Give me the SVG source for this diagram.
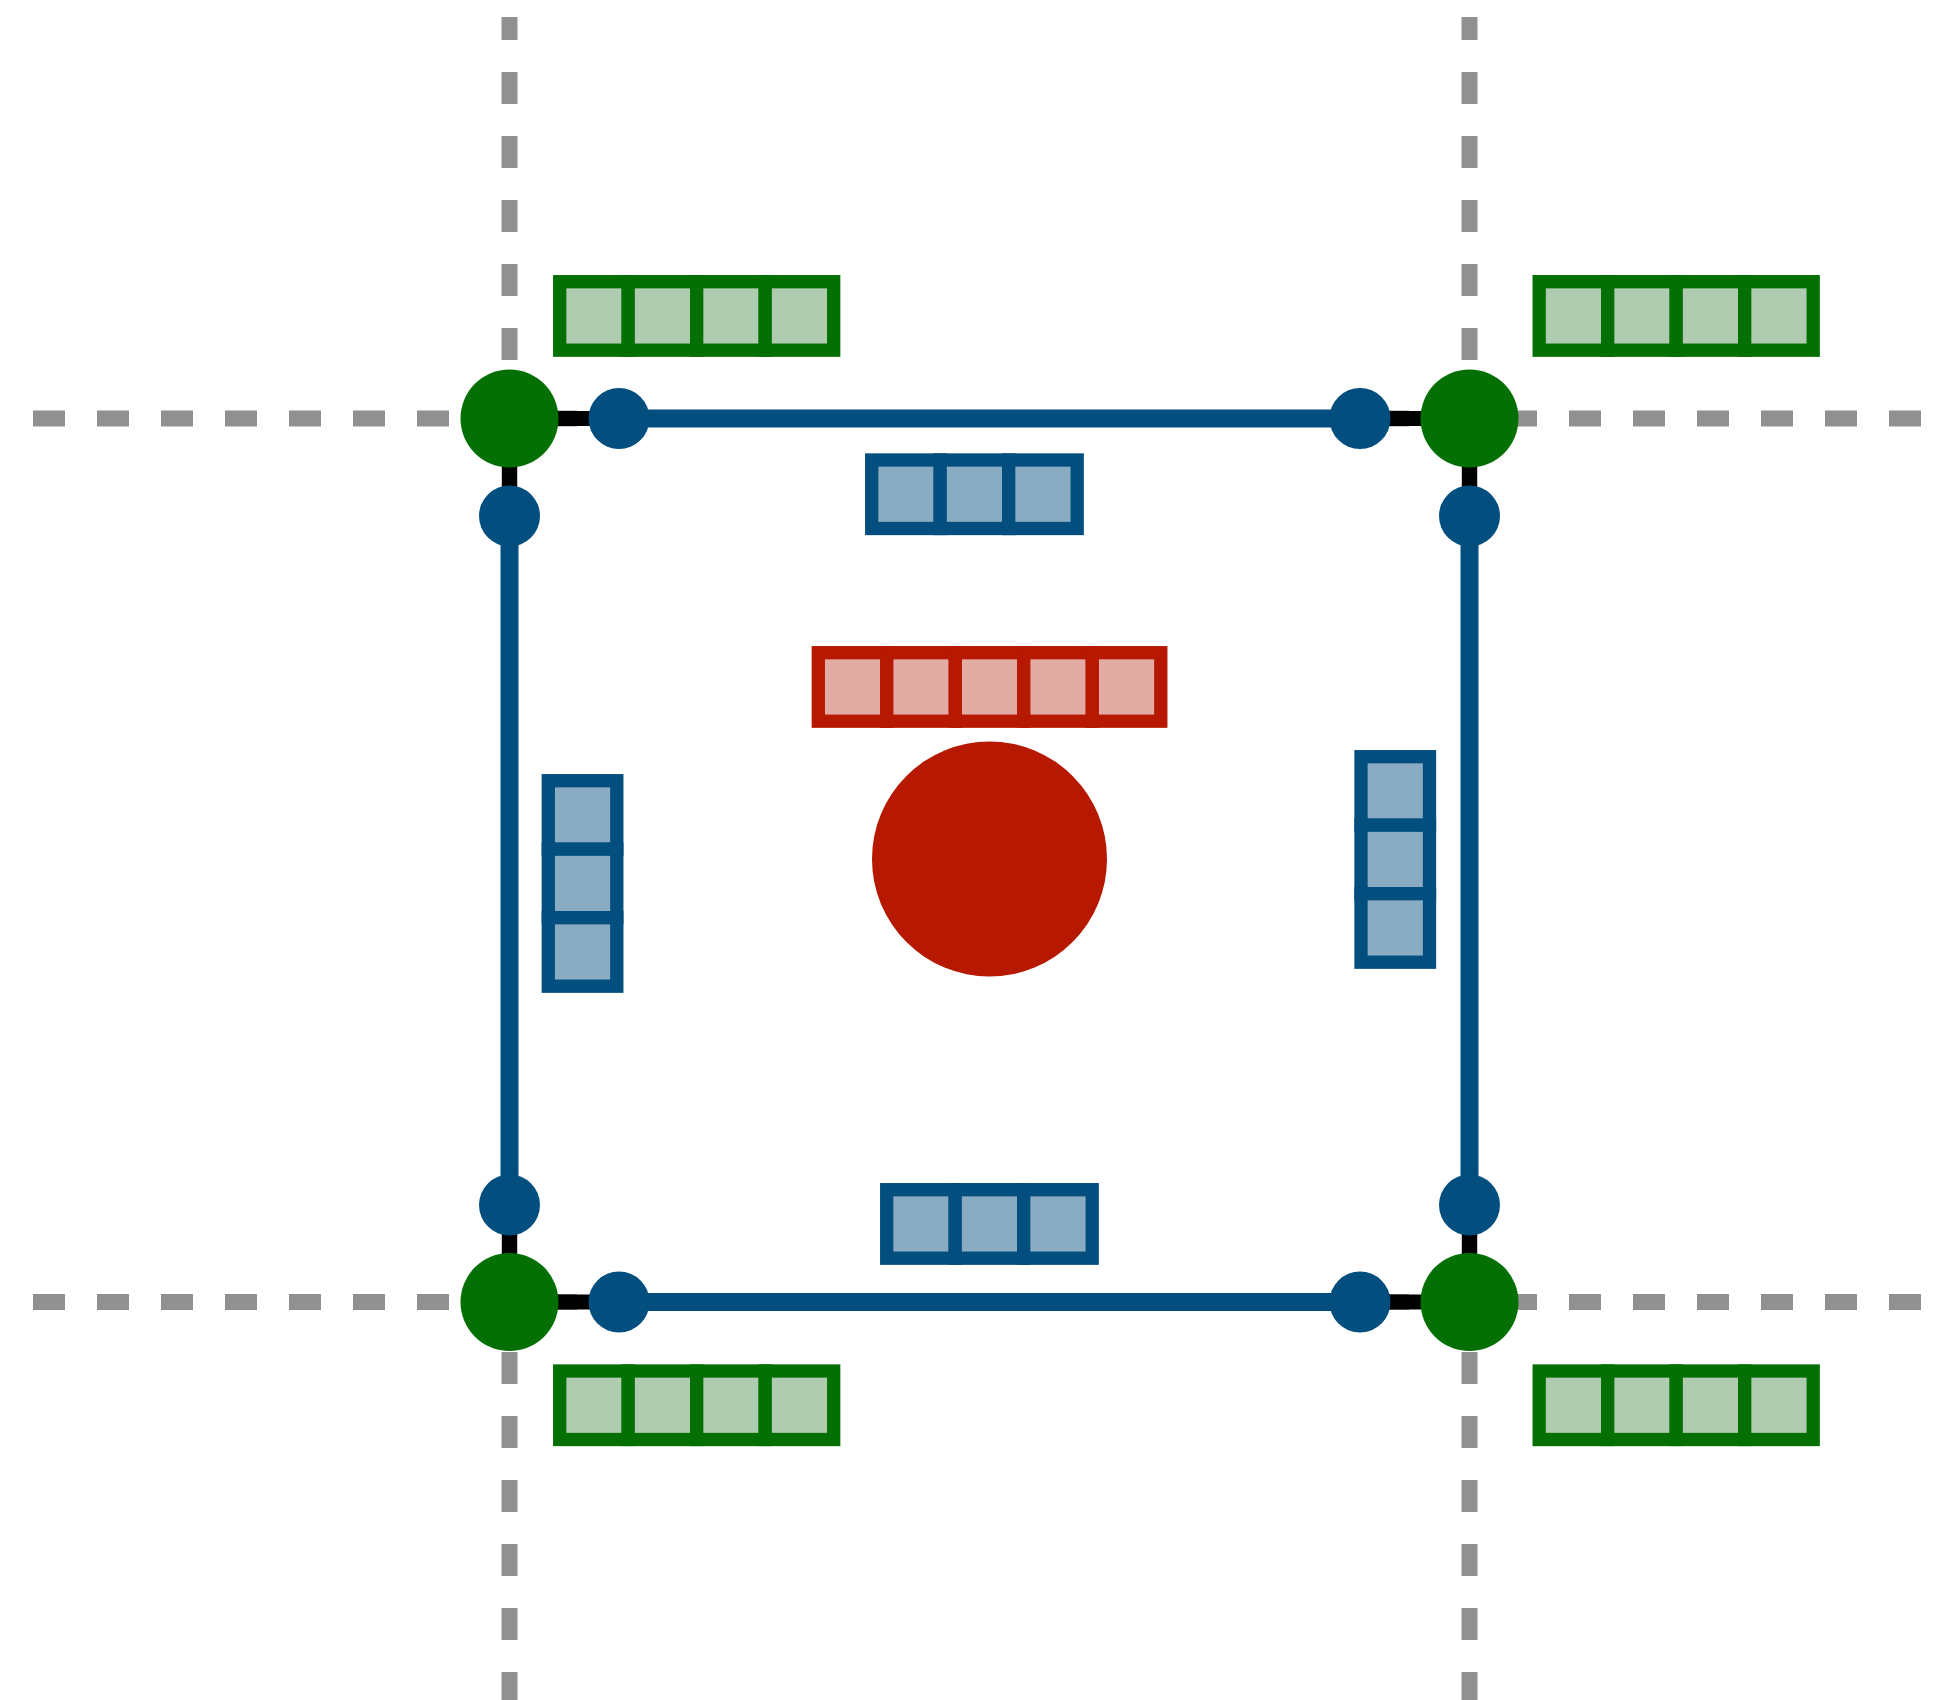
<svg xmlns="http://www.w3.org/2000/svg" width="1948" height="1700" viewBox="0 0 1948 1700">
  <style>
    .grid { stroke: #919191; stroke-width: 16; stroke-dasharray: 32 32; fill: none; }
    .link { stroke: #000000; stroke-width: 15; fill: none; }
    .wire { stroke: #024e7e; stroke-width: 18; fill: none; }
    .corner { fill: #047004; }
    .port { fill: #024e7e; }
    .hub { fill: #b61800; }
    .g { fill: #afcbb0; stroke: #047004; stroke-width: 13.3; }
    .b { fill: #8aacc3; stroke: #024e7e; stroke-width: 13.3; }
    .r { fill: #e2aba3; stroke: #b61800; stroke-width: 13.3; }
  </style>
  <defs>
    <rect id="cell-g" class="g" width="68.5" height="68.5"/>
    <rect id="cell-b" class="b" width="68.5" height="68.5"/>
    <rect id="cell-r" class="r" width="68.5" height="68.5"/>
  </defs>

  <rect width="1948" height="1700" fill="#ffffff"/>

  <!-- dashed grid lines -->
  <g id="grid">
    <line class="grid" x1="33" y1="418.5" x2="1922" y2="418.5"/>
    <line class="grid" x1="33" y1="1302" x2="1922" y2="1302"/>
    <line class="grid" x1="509.5" y1="17" x2="509.5" y2="1710" stroke-dashoffset="9"/>
    <line class="grid" x1="1469.5" y1="17" x2="1469.5" y2="1710" stroke-dashoffset="9"/>
  </g>

  <!-- connectors -->
  <g id="connectors">
    <line class="link" x1="509.5" y1="418.5" x2="1469.5" y2="418.5"/>
    <line class="link" x1="509.5" y1="1302" x2="1469.5" y2="1302"/>
    <line class="link" x1="509.5" y1="418.5" x2="509.5" y2="1302"/>
    <line class="link" x1="1469.5" y1="418.5" x2="1469.5" y2="1302"/>
    <line class="wire" x1="619" y1="418.5" x2="1360" y2="418.5"/>
    <line class="wire" x1="619" y1="1302" x2="1360" y2="1302"/>
    <line class="wire" x1="509.5" y1="516" x2="509.5" y2="1205"/>
    <line class="wire" x1="1469.5" y1="516" x2="1469.5" y2="1205"/>
  </g>

  <!-- corner nodes -->
  <g id="corner-tl"><circle class="corner" cx="509.5" cy="418.5" r="49"/></g>
  <g id="corner-tr"><circle class="corner" cx="1469.5" cy="418.5" r="49"/></g>
  <g id="corner-bl"><circle class="corner" cx="509.5" cy="1302" r="49"/></g>
  <g id="corner-br"><circle class="corner" cx="1469.5" cy="1302" r="49"/></g>

  <!-- port nodes -->
  <g id="port-top-left"><circle class="port" cx="619" cy="418.5" r="30.5"/></g>
  <g id="port-top-right"><circle class="port" cx="1360" cy="418.5" r="30.5"/></g>
  <g id="port-bottom-left"><circle class="port" cx="619" cy="1302" r="30.5"/></g>
  <g id="port-bottom-right"><circle class="port" cx="1360" cy="1302" r="30.5"/></g>
  <g id="port-left-top"><circle class="port" cx="509.5" cy="516" r="30.5"/></g>
  <g id="port-left-bottom"><circle class="port" cx="509.5" cy="1205" r="30.5"/></g>
  <g id="port-right-top"><circle class="port" cx="1469.5" cy="516" r="30.5"/></g>
  <g id="port-right-bottom"><circle class="port" cx="1469.5" cy="1205" r="30.5"/></g>

  <!-- central node -->
  <g id="hub"><circle class="hub" cx="989.5" cy="859" r="117.5"/></g>

  <!-- cell queues -->
  <g id="queue-green-tl" transform="translate(559.7 281.7)">
    <use href="#cell-g" x="0"/><use href="#cell-g" x="68.5"/><use href="#cell-g" x="137"/><use href="#cell-g" x="205.5"/>
  </g>
  <g id="queue-green-tr" transform="translate(1539.2 281.7)">
    <use href="#cell-g" x="0"/><use href="#cell-g" x="68.5"/><use href="#cell-g" x="137"/><use href="#cell-g" x="205.5"/>
  </g>
  <g id="queue-green-bl" transform="translate(559.7 1371)">
    <use href="#cell-g" x="0"/><use href="#cell-g" x="68.5"/><use href="#cell-g" x="137"/><use href="#cell-g" x="205.5"/>
  </g>
  <g id="queue-green-br" transform="translate(1539.2 1371)">
    <use href="#cell-g" x="0"/><use href="#cell-g" x="68.5"/><use href="#cell-g" x="137"/><use href="#cell-g" x="205.5"/>
  </g>
  <g id="queue-blue-top" transform="translate(871.7 460)">
    <use href="#cell-b" x="0"/><use href="#cell-b" x="68.5"/><use href="#cell-b" x="137"/>
  </g>
  <g id="queue-blue-bottom" transform="translate(886.7 1189.7)">
    <use href="#cell-b" x="0"/><use href="#cell-b" x="68.5"/><use href="#cell-b" x="137"/>
  </g>
  <g id="queue-blue-left" transform="translate(548.3 780.7)">
    <use href="#cell-b" y="0"/><use href="#cell-b" y="68.5"/><use href="#cell-b" y="137"/>
  </g>
  <g id="queue-blue-right" transform="translate(1361 756.7)">
    <use href="#cell-b" y="0"/><use href="#cell-b" y="68.5"/><use href="#cell-b" y="137"/>
  </g>
  <g id="queue-red" transform="translate(818.3 652.7)">
    <use href="#cell-r" x="0"/><use href="#cell-r" x="68.5"/><use href="#cell-r" x="137"/><use href="#cell-r" x="205.5"/><use href="#cell-r" x="274"/>
  </g>
</svg>
